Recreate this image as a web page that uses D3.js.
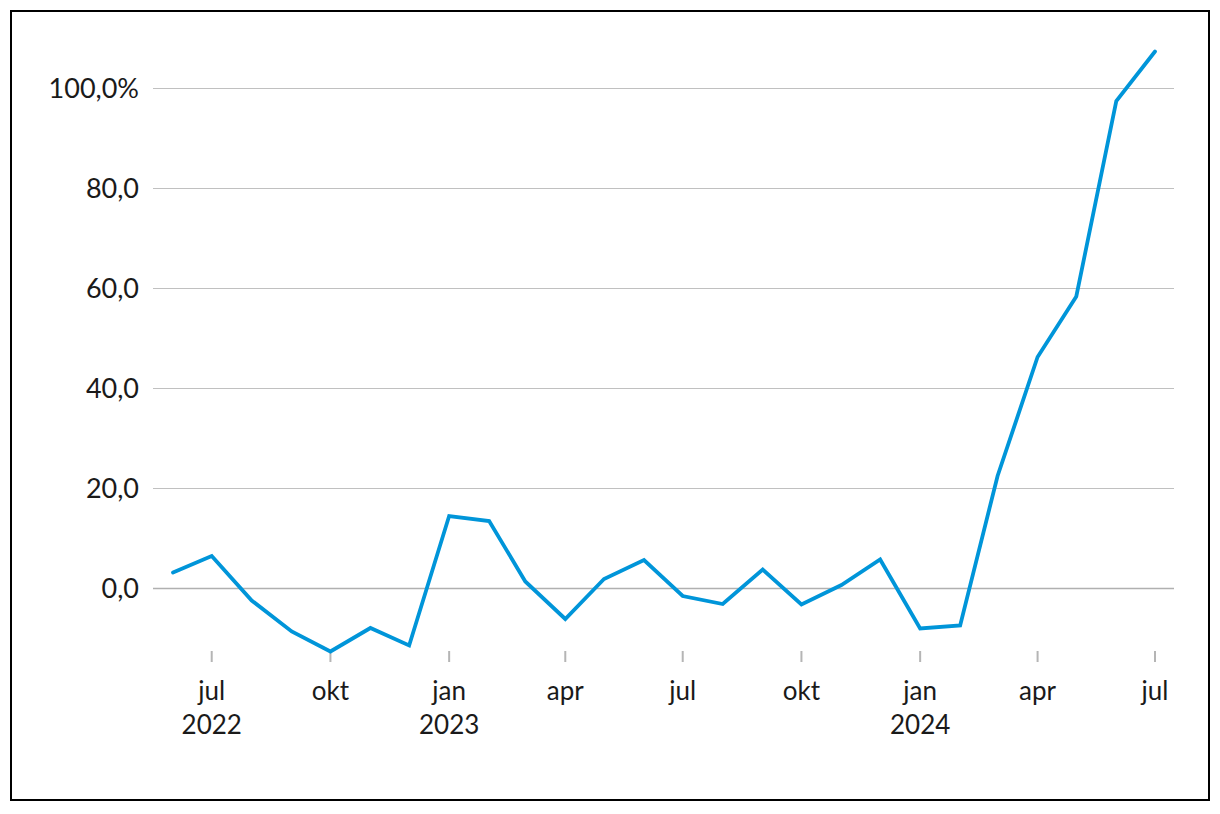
<!DOCTYPE html>
<html>
<head>
<meta charset="utf-8">
<script src="https://cdn.jsdelivr.net/npm/d3@7"></script>
<style>
  html, body { margin: 0; padding: 0; background: #fff; }
  svg { display: block; }
  text { font-family: Lato, "Open Sans", "DejaVu Sans", sans-serif; font-weight: 400; fill: #1a1a1a; }
</style>
</head>
<body>
<svg id="chart" width="1220" height="814"></svg>
<script>
const months = ["2022-06","2022-07","2022-08","2022-09","2022-10","2022-11","2022-12",
  "2023-01","2023-02","2023-03","2023-04","2023-05","2023-06","2023-07","2023-08","2023-09","2023-10","2023-11","2023-12",
  "2024-01","2024-02","2024-03","2024-04","2024-05","2024-06","2024-07"];
const values = [3.1, 6.4, -2.5, -8.7, -12.7, -8.0, -11.5,
  14.4, 13.4, 1.3, -6.2, 1.8, 5.6, -1.6, -3.2, 3.7, -3.3, 0.6, 5.7,
  -8.1, -7.5, 22.4, 46.2, 58.3, 97.4, 107.3];
const yTicks = [0, 20, 40, 60, 80, 100];
const yTickLabels = ["0,0", "20,0", "40,0", "60,0", "80,0", "100,0%"];
const xTickDates = ["2022-07","2022-10","2023-01","2023-04","2023-07","2023-10","2024-01","2024-04","2024-07"];
const xTickMonths = ["jul","okt","jan","apr","jul","okt","jan","apr","jul"];
const xTickYears = ["2022","","2023","","","","2024","",""];

const parse = d3.timeParse("%Y-%m");
const data = months.map((m, i) => ({ date: parse(m), value: values[i] }));

const svg = d3.select("#chart");

// frame
svg.append("rect").attr("x", 11).attr("y", 11).attr("width", 1198).attr("height", 789)
  .attr("fill", "none").attr("stroke", "#000").attr("stroke-width", 2);

const x = d3.scaleTime().domain([parse("2022-06"), parse("2024-07")]).range([173, 1155]);
const y = d3.scaleLinear().domain([0, 100]).range([588, 88]);

const gridLeft = 153, gridRight = 1174;

// gridlines
svg.append("g").selectAll("line").data(yTicks).join("line")
  .attr("x1", gridLeft).attr("x2", gridRight)
  .attr("y1", d => Math.round(y(d)) + 0.5).attr("y2", d => Math.round(y(d)) + 0.5)
  .attr("stroke", d => d === 0 ? "#b0b0b0" : "#c0c0c0")
  .attr("stroke-width", d => d === 0 ? 1.6 : 1);

// y labels
svg.append("g").selectAll("text").data(yTicks).join("text")
  .attr("x", 139).attr("y", d => y(d) + 10)
  .attr("text-anchor", "end").attr("font-size", 27)
  .text((d, i) => yTickLabels[i]);

// x ticks
const xt = svg.append("g");
xt.selectAll("line").data(xTickDates).join("line")
  .attr("x1", d => x(parse(d))).attr("x2", d => x(parse(d)))
  .attr("y1", 651).attr("y2", 662)
  .attr("stroke", "#b5b5b5").attr("stroke-width", 2);
xt.selectAll("text.m").data(xTickDates).join("text").attr("class", "m")
  .attr("x", d => x(parse(d))).attr("y", 700)
  .attr("text-anchor", "middle").attr("font-size", 26)
  .text((d, i) => xTickMonths[i]);
xt.selectAll("text.yr").data(xTickDates).join("text").attr("class", "yr")
  .attr("x", d => x(parse(d))).attr("y", 734)
  .attr("text-anchor", "middle").attr("font-size", 26)
  .text((d, i) => xTickYears[i]);

// line
const line = d3.line().x(d => x(d.date)).y(d => y(d.value));
svg.append("path").datum(data)
  .attr("d", line)
  .attr("fill", "none")
  .attr("stroke", "#0095d9")
  .attr("stroke-width", 3.8)
  .attr("stroke-linejoin", "miter")
  .attr("stroke-linecap", "round");
</script>
</body>
</html>
